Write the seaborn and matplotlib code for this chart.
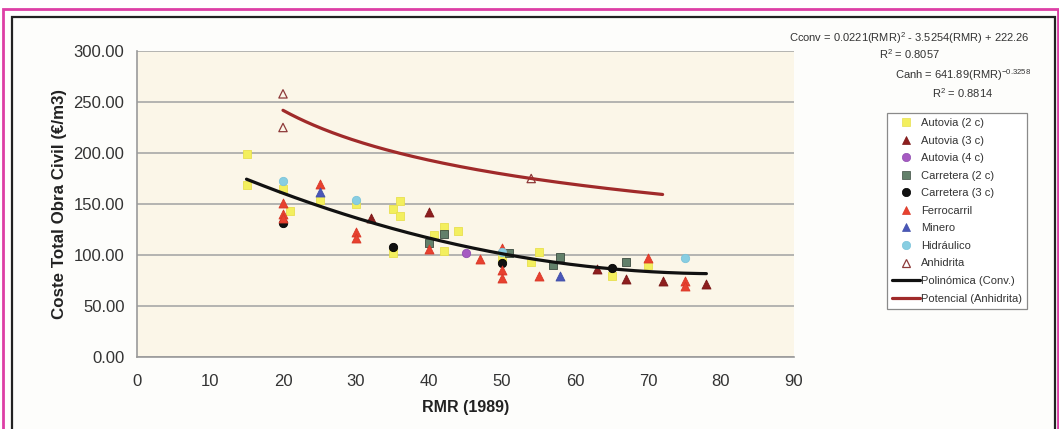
import numpy as np
import pandas as pd
import matplotlib
matplotlib.use("Agg")
import matplotlib.pyplot as plt
import seaborn as sns
from matplotlib.patches import Rectangle
from matplotlib.lines import Line2D

# ---------------- data ----------------
autovia2_x = [15, 15, 20, 21, 25, 30, 35, 35, 36, 36, 42, 40.7, 44, 42, 50, 55, 54, 65, 70]
autovia2_y = [199, 169, 165, 143, 154, 150, 102, 145, 153, 138, 127, 120, 124, 104, 98, 103, 93, 79, 90]
autovia3_x = [32, 40, 63, 67, 72, 78]
autovia3_y = [136, 142, 86, 76, 75, 72]
autovia4_x = [45]
autovia4_y = [102]
carretera2_x = [40, 42, 51, 57, 58, 67]
carretera2_y = [112, 121, 102, 90, 98, 93]
carretera3_x = [20, 35, 50, 65]
carretera3_y = [131, 108, 92, 87]
ferro_x = [20, 20, 20, 25, 30, 30, 40, 47, 50, 50, 50, 55, 70, 75, 75]
ferro_y = [151, 140, 136, 170, 123, 117, 106, 96, 107, 85, 77, 79, 97, 75, 70]
minero_x = [25, 58]
minero_y = [162, 79]
hidra_x = [20, 30, 50, 75]
hidra_y = [173, 154, 103, 97]
anhid_x = [20, 20, 54]
anhid_y = [258, 225, 175]

series_names = ["Autovia (2 c)", "Autovia (3 c)", "Autovia (4 c)", "Carretera (2 c)",
                "Carretera (3 c)", "Ferrocarril", "Minero", "Hidráulico", "Anhidrita"]
series_x = [autovia2_x, autovia3_x, autovia4_x, carretera2_x, carretera3_x,
            ferro_x, minero_x, hidra_x, anhid_x]
series_y = [autovia2_y, autovia3_y, autovia4_y, carretera2_y, carretera3_y,
            ferro_y, minero_y, hidra_y, anhid_y]

# trend lines stated on the chart
poly_coef = [0.0221, -3.5254, 222.26]
poly_range = [15, 78]
pow_a, pow_b = 641.89, -0.3258
pow_range = [20, 72]

x_ticks = [0, 10, 20, 30, 40, 50, 60, 70, 80, 90]
y_ticks = [0, 50, 100, 150, 200, 250, 300]

# ---------------- style ----------------
sns.set_theme(style="white")
plt.rcParams['font.family'] = ['Liberation Sans', 'DejaVu Sans']
plt.rcParams['mathtext.fontset'] = 'custom'
plt.rcParams['mathtext.rm'] = 'Liberation Sans'
plt.rcParams['mathtext.it'] = 'Liberation Sans'
plt.rcParams['mathtext.bf'] = 'Liberation Sans:bold'

styles = {
    "Autovia (2 c)": dict(marker='s', fc='#F3EF5E', ec='#E8E050', s=36),
    "Autovia (3 c)": dict(marker='^', fc='#8E1E1E', ec='#7A1818', s=42),
    "Autovia (4 c)": dict(marker='o', fc='#A65AC2', ec='#9050B0', s=36),
    "Carretera (2 c)": dict(marker='s', fc='#62806A', ec='#3C4C40', s=36),
    "Carretera (3 c)": dict(marker='o', fc='#111111', ec='#000000', s=36),
    "Ferrocarril": dict(marker='^', fc='#E8412F', ec='#D83828', s=42),
    "Minero": dict(marker='^', fc='#4A56B8', ec='#4050A8', s=42),
    "Hidráulico": dict(marker='o', fc='#88CEE2', ec='#7CC4DA', s=36),
    "Anhidrita": dict(marker='^', fc='none', ec='#8E3A3A', s=36),
}

W, H = 1059, 429
fig = plt.figure(figsize=(W / 100, H / 100), dpi=100)
fig.patch.set_facecolor('white')

# frames
fig.add_artist(Rectangle((11.5 / W, -0.02), (1055 - 11.5) / W, 1.02 - 17 / H,
                         transform=fig.transFigure, fc='#FDFDFB', ec='#222222', lw=1.6, zorder=0))
fig.add_artist(Rectangle((3 / W, -0.02), (1058 - 3) / W, 1.02 - 8.5 / H,
                         transform=fig.transFigure, fc='none', ec='#DD3FA6', lw=2.0, zorder=0))

ax = fig.add_axes([137 / W, 1 - 357 / H, (794 - 137) / W, (357 - 51) / H])
ax.set_facecolor('#FBF6E8')

for name, xs, ys in zip(series_names, series_x, series_y):
    st = styles[name]
    df = pd.DataFrame({"RMR": xs, "Coste": ys})
    sns.scatterplot(data=df, x="RMR", y="Coste", ax=ax, marker=st['marker'],
                    facecolor=st['fc'], edgecolor=st['ec'], s=st['s'],
                    linewidth=0.9 if st['fc'] == 'none' else 0.6, zorder=3, legend=False)

xp = np.linspace(poly_range[0], poly_range[1], 200)
dfp = pd.DataFrame({"RMR": xp, "Coste": np.polyval(poly_coef, xp)})
sns.lineplot(data=dfp, x="RMR", y="Coste", ax=ax, color='#111111', lw=2.3, zorder=4)
xa = np.linspace(pow_range[0], pow_range[1], 200)
dfa = pd.DataFrame({"RMR": xa, "Coste": pow_a * xa ** pow_b})
sns.lineplot(data=dfa, x="RMR", y="Coste", ax=ax, color='#A02A2A', lw=2.3, zorder=4)

ax.set_xlim(0, 90)
ax.set_ylim(0, 300)
ax.set_xticks(x_ticks)
ax.set_yticks(y_ticks)
ax.set_xticklabels([str(t) for t in x_ticks])
ax.set_yticklabels([f"{t:.2f}" for t in y_ticks])
ax.yaxis.grid(True, color='#A8A8A8', lw=1.2)
ax.xaxis.grid(False)
ax.set_axisbelow(True)
for sp in ['top', 'right']:
    ax.spines[sp].set_visible(False)
for sp in ['left', 'bottom']:
    ax.spines[sp].set_color('#9A9A9A')
    ax.spines[sp].set_linewidth(1.2)
ax.tick_params(axis='both', direction='out', length=5, width=1, color='#9A9A9A',
               labelsize=12, labelcolor='#333333', pad=4)
ax.tick_params(axis='x', pad=7)
ax.set_xlabel("RMR (1989)", fontsize=11.5, fontweight='bold', color='#222222', labelpad=8)
ax.set_ylabel("Coste Total Obra Civil (€/m3)", fontsize=12.2, fontweight='bold',
              color='#222222', labelpad=5)

# equations
eq_fs = 8
fig.text(909 / W, 1 - 38 / H, r"Cconv = 0.0221(RMR)$^{2}$ - 3.5254(RMR) + 222.26",
         ha='center', va='center', fontsize=eq_fs, color='#333333')
fig.text(909 / W, 1 - 54 / H, r"R$^{2}$ = 0.8057", ha='center', va='center', fontsize=eq_fs,
         color='#333333')
fig.text(963 / W, 1 - 75 / H, r"Canh = 641.89(RMR)$^{-0.3258}$", ha='center', va='center',
         fontsize=eq_fs, color='#333333')
fig.text(963 / W, 1 - 93 / H, r"R$^{2}$ = 0.8814", ha='center', va='center', fontsize=eq_fs,
         color='#333333')

# legend
handles = []
for name in series_names:
    st = styles[name]
    handles.append(Line2D([], [], ls='none', marker=st['marker'], markersize=6,
                          markerfacecolor=st['fc'], markeredgecolor=st['ec'],
                          markeredgewidth=0.9 if st['fc'] == 'none' else 0.5))
handles.append(Line2D([], [], color='#111111', lw=2.3))
handles.append(Line2D([], [], color='#A02A2A', lw=2.3))
labels = series_names + ["Polinómica (Conv.)", "Potencial (Anhidrita)"]
leg = ax.legend(handles, labels, loc='upper left', bbox_to_anchor=(887 / W, 1 - 113 / H),
                bbox_transform=fig.transFigure, fontsize=8, frameon=True, fancybox=False,
                borderpad=0.45, labelspacing=0.68, handlelength=2.5, handletextpad=0.1,
                borderaxespad=0, framealpha=1)
leg.get_frame().set_edgecolor('#8A8A8A')
leg.get_frame().set_linewidth(0.9)
for t in leg.get_texts():
    t.set_color('#333333')

fig.savefig("out.png", dpi=100)
